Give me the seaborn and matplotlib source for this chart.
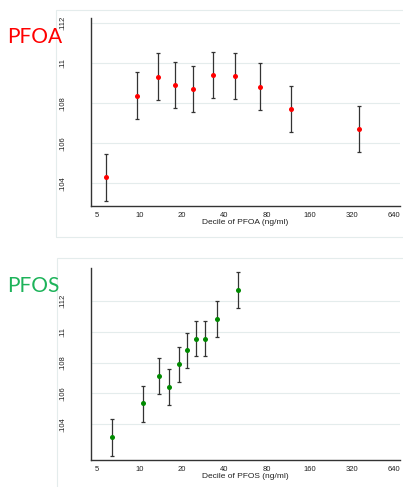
import matplotlib
matplotlib.use('Agg')
import matplotlib.pyplot as plt
import seaborn as sns
import pandas as pd
from matplotlib.patches import Rectangle

# Values
pfoa_x = [5.8, 9.6, 13.6, 18.0, 24.0, 33.2, 47.7, 71.7, 118.8, 360]
pfoa_y = [.10432, .10837, .10933, .10892, .10873, .10942, .10938, .10883, .10773, .10672]
pfoa_lo = [.10312, .10722, .10818, .10775, .10758, .10825, .10822, .10767, .10657, .10555]
pfoa_hi = [.10548, .10957, .11050, .11005, .10988, .11055, .11053, .11000, .10888, .10788]

pfos_x = [6.42, 10.7, 13.7, 16.35, 19.0, 21.8, 25.2, 29.4, 35.8, 49.9]
pfos_y = [.10316, .10536, .10716, .10640, .10790, .10881, .10956, .10956, .11084, .11272]
pfos_lo = [.10196, .10417, .10597, .10523, .10673, .10766, .10842, .10842, .10967, .11157]
pfos_hi = [.10432, .10651, .10829, .10757, .10904, .10991, .11071, .11071, .11199, .11391]

x_ticks = [5, 10, 20, 40, 80, 160, 320, 640]
y_ticks = [.104, .106, .108, .11, .112]
y_tick_labels = ['.104', '.106', '.108', '.11', '.112']

sns.set_style('white')
plt.rcParams['font.family'] = ['Liberation Sans', 'DejaVu Sans']

W, H = 403, 487
fig = plt.figure(figsize=(W / 100, H / 100), dpi=100)

def px_box(left, top, right, bottom):
    return [left / W, 1 - bottom / H, (right - left) / W, (bottom - top) / H]

# light frames round each panel
fig.patches.append(Rectangle((56 / W, 1 - 236.7 / H), 1.0, (236.7 - 10) / H,
                             transform=fig.transFigure, fill=False,
                             edgecolor='#e4ecec', linewidth=0.8))
fig.patches.append(Rectangle((56.7 / W, -0.1), 1.0, 0.1 + (487 - 258.3) / H,
                             transform=fig.transFigure, fill=False,
                             edgecolor='#e4ecec', linewidth=0.8))

panels = [
    dict(x=pfoa_x, y=pfoa_y, lo=pfoa_lo, hi=pfoa_hi, box=px_box(91, 18.3, 400, 206),
         ylim=(.10287, .11225), color='#ff0000', name='PFOA', name_color='#ff0000',
         name_y=43, xlabel='Decile of PFOA (ng/ml)'),
    dict(x=pfos_x, y=pfos_y, lo=pfos_lo, hi=pfos_hi, box=px_box(91, 268.3, 400, 460),
         ylim=(.10168, .11413), color='#008a00', name='PFOS', name_color='#1db35a',
         name_y=291.5, xlabel='Decile of PFOS (ng/ml)'),
]

for p in panels:
    ax = fig.add_axes(p['box'])
    df = pd.DataFrame({'x': p['x'], 'y': p['y'], 'lo': p['lo'], 'hi': p['hi']})
    ax.set_xscale('log', base=2)
    ax.errorbar(df['x'], df['y'], yerr=[df['y'] - df['lo'], df['hi'] - df['y']],
                fmt='none', ecolor='#333333', elinewidth=0.9, capsize=1.4,
                capthick=0.9, zorder=2)
    sns.scatterplot(data=df, x='x', y='y', ax=ax, color=p['color'], s=13,
                    edgecolor=p['color'], linewidth=0, zorder=3)
    ax.set_xlim(4.557, 702)
    ax.set_ylim(*p['ylim'])
    ax.set_xticks(x_ticks)
    ax.set_xticklabels([str(t) for t in x_ticks])
    ax.minorticks_off()
    ax.set_yticks(y_ticks)
    ax.set_yticklabels(y_tick_labels, rotation=90, va='center')
    ax.tick_params(axis='both', labelsize=5.5, colors='#222222', length=2.5,
                   width=0.8, direction='out')
    ax.tick_params(axis='y', pad=15)
    ax.tick_params(axis='x', pad=1.5)
    ax.grid(axis='y', color='#e4ecec', linewidth=0.8)
    ax.set_axisbelow(True)
    for side in ['top', 'right']:
        ax.spines[side].set_visible(False)
    for side in ['left', 'bottom']:
        ax.spines[side].set_color('#333333')
        ax.spines[side].set_linewidth(1.0)
    ax.set_xlabel(p['xlabel'], fontsize=6, labelpad=0.5, color='#222222')
    ax.set_ylabel('')
    fig.text(7 / W, 1 - p['name_y'] / H, p['name'], color=p['name_color'],
             fontsize=15, family=['Lato', 'DejaVu Sans'], va='baseline', ha='left')

fig.savefig('out.png', dpi=100)
